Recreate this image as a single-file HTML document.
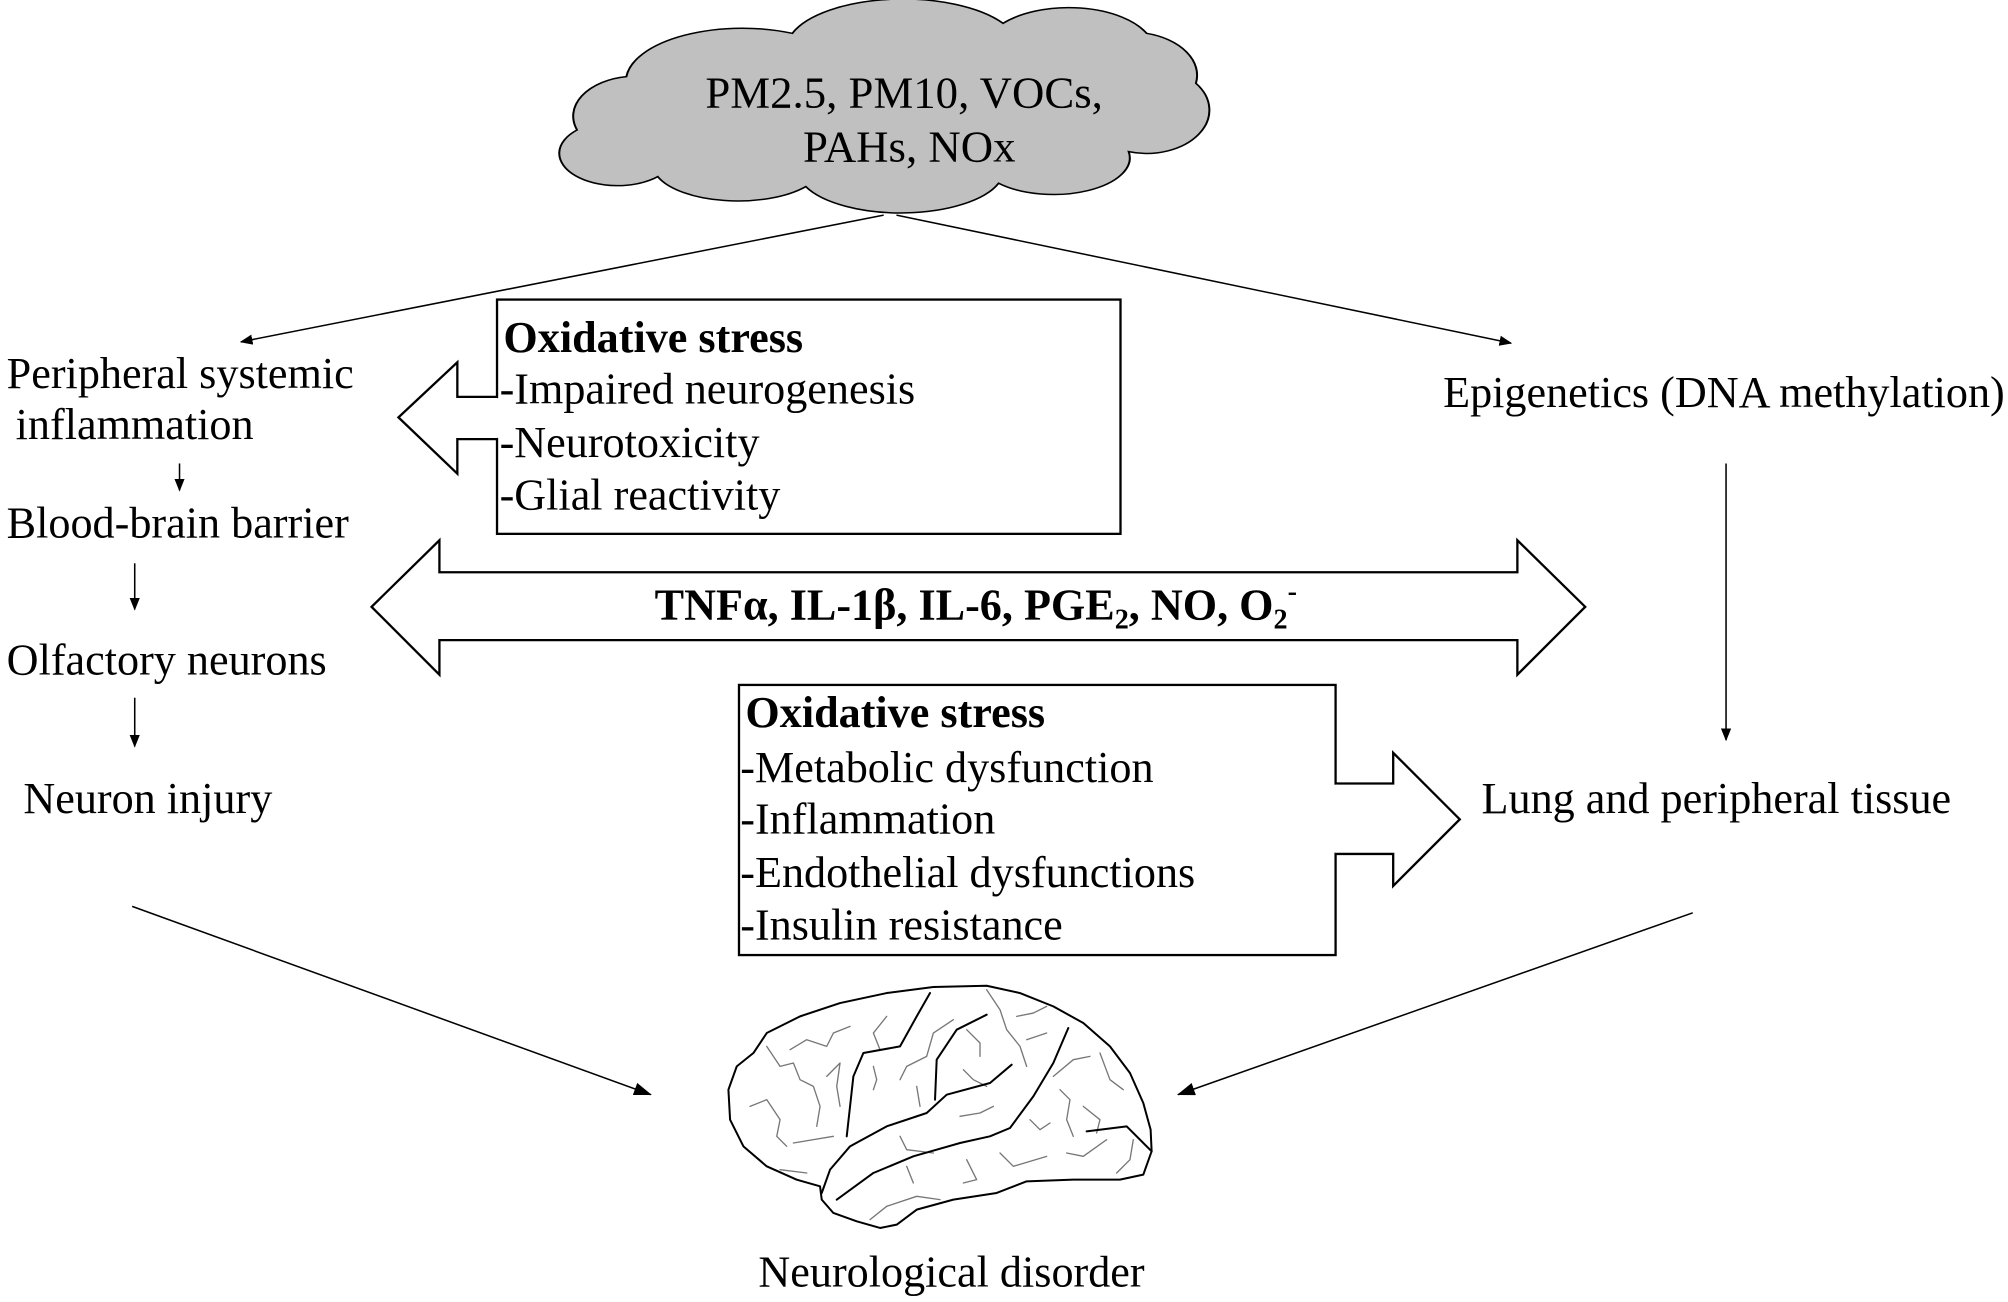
<!DOCTYPE html>
<html><head><meta charset="utf-8"><style>
html,body{margin:0;padding:0;background:#fff;}
svg{display:block;}
text{font-family:"Liberation Serif",serif;fill:#000;}
</style></head><body>
<svg width="2008" height="1302" viewBox="0 0 1568 1017" xmlns="http://www.w3.org/2000/svg">
<defs>
<marker id="ah" markerWidth="10" markerHeight="8" refX="9" refY="4" orient="auto" markerUnits="userSpaceOnUse"><path d="M0,0 L10,4 L0,8 z" fill="#000"/></marker>
<marker id="ah2" markerWidth="14" markerHeight="10" refX="13" refY="5" orient="auto" markerUnits="userSpaceOnUse"><path d="M0,0 L14,5 L0,10 z" fill="#000"/></marker>
</defs>
<!-- cloud -->
<g transform="scale(0.78088) translate(550,0) scale(0.4486,0.3333)">
<path d="M60,390 A140,120 0 0 1 170,230 A260,160 0 0 1 540,100 A260,150 0 0 1 1010,70 A190,130 0 0 1 1330,100 A150,130 0 0 1 1440,250 A140,130 0 0 1 1290,455 A170,110 0 0 1 1000,550 A230,130 0 0 1 570,560 A190,110 0 0 1 240,530 A120,90 0 0 1 60,390 Z" fill="#c0c0c0" stroke="#000" stroke-width="4.5"/>
</g>
<text x="706" y="84" font-size="35" text-anchor="middle">PM2.5, PM10, VOCs,</text>
<text x="710" y="126" font-size="35" text-anchor="middle">PAHs, NOx</text>
<line x1="690" y1="168" x2="188" y2="267" stroke="#000" stroke-width="1.2" marker-end="url(#ah)"/>
<line x1="700" y1="168" x2="1180" y2="268" stroke="#000" stroke-width="1.2" marker-end="url(#ah)"/>
<g font-size="34.5">
<text x="5" y="303">Peripheral systemic</text>
<text x="12" y="343">inflammation</text>
<text x="5" y="420">Blood-brain barrier</text>
<text x="5" y="527">Olfactory neurons</text>
<text x="18" y="635">Neuron injury</text>
<text x="1127" y="318">Epigenetics (DNA methylation)</text>
<text x="1157" y="635">Lung and peripheral tissue</text>
<text x="743" y="1005" text-anchor="middle">Neurological disorder</text>
</g>
<line x1="140" y1="362" x2="140" y2="383" stroke="#000" stroke-width="1.2" marker-end="url(#ah)"/>
<line x1="105" y1="440" x2="105" y2="476" stroke="#000" stroke-width="1.2" marker-end="url(#ah)"/>
<line x1="105" y1="545" x2="105" y2="583" stroke="#000" stroke-width="1.2" marker-end="url(#ah)"/>
<line x1="1348" y1="362" x2="1348" y2="578" stroke="#000" stroke-width="1.2" marker-end="url(#ah)"/>
<rect x="388" y="234" width="487" height="183" fill="#fff" stroke="#000" stroke-width="1.8"/>
<path d="M388,310 L357,310 L357,283 L311,326 L357,370 L357,343 L388,343" fill="#fff" stroke="#000" stroke-width="1.8"/>
<line x1="388" y1="311" x2="388" y2="342" stroke="#fff" stroke-width="3"/>
<g font-size="34.5">
<text x="393" y="275" font-weight="bold">Oxidative stress</text>
<text x="390" y="315">-Impaired neurogenesis</text>
<text x="390" y="357">-Neurotoxicity</text>
<text x="390" y="398">-Glial reactivity</text>
</g>
<path d="M290,474 L343,422 L343,447 L1185,447 L1185,422 L1238,474 L1185,527 L1185,500 L343,500 L343,527 Z" fill="#fff" stroke="#000" stroke-width="1.8"/>
<text x="762" y="484" font-size="34.5" font-weight="bold" text-anchor="middle">TNFα, IL-1β, IL-6, PGE<tspan font-size="22" dy="7">2</tspan><tspan dy="-7">, NO, O</tspan><tspan font-size="22" dy="7">2</tspan><tspan font-size="22" dy="-22">-</tspan></text>
<rect x="577" y="535" width="466" height="211" fill="#fff" stroke="#000" stroke-width="1.8"/>
<path d="M1043,612 L1088,612 L1088,588 L1140,640 L1088,692 L1088,667 L1043,667" fill="#fff" stroke="#000" stroke-width="1.8"/>
<line x1="1043" y1="613" x2="1043" y2="666" stroke="#fff" stroke-width="3"/>
<g font-size="34.5">
<text x="582" y="568" font-weight="bold">Oxidative stress</text>
<text x="578" y="611">-Metabolic dysfunction</text>
<text x="578" y="651">-Inflammation</text>
<text x="578" y="693">-Endothelial dysfunctions</text>
<text x="578" y="734">-Insulin resistance</text>
</g>
<line x1="103" y1="708" x2="508" y2="855" stroke="#000" stroke-width="1.2" marker-end="url(#ah2)"/>
<line x1="1322" y1="713" x2="920" y2="855" stroke="#000" stroke-width="1.2" marker-end="url(#ah2)"/>
<g transform="scale(0.78088) translate(700,980) scale(0.33333)" fill="none" stroke-linecap="round" stroke-linejoin="round">
<g stroke="#777" stroke-width="4">
<path d="M150,380 L200,360 L240,420 L230,470 L260,500"/>
<path d="M200,200 L240,260 L280,250 L300,300 L340,320 L360,380 L350,440"/>
<path d="M270,210 L320,180 L380,200 L400,160 L450,140"/>
<path d="M380,290 L420,250 L410,320 L420,380"/>
<path d="M280,490 L400,470"/>
<path d="M240,570 L320,580"/>
<path d="M520,260 L530,300 L520,330"/>
<path d="M560,110 L520,160 L540,210"/>
<path d="M600,300 L620,260 L680,230 L700,160 L760,120"/>
<path d="M650,320 L660,380"/>
<path d="M790,270 L820,300 L860,320"/>
<path d="M800,150 L840,190 L840,230"/>
<path d="M780,410 L840,400 L880,380"/>
<path d="M600,470 L620,510 L700,520"/>
<path d="M860,30 L900,90 L920,150 L960,200 L980,260"/>
<path d="M950,110 L1000,100 L1040,80"/>
<path d="M980,180 L1040,160"/>
<path d="M1060,290 L1120,240 L1170,230"/>
<path d="M1080,330 L1110,360 L1100,420 L1120,470"/>
<path d="M990,420 L1020,450 L1050,430"/>
<path d="M1100,520 L1150,530 L1220,480"/>
<path d="M1200,220 L1230,300 L1270,330"/>
<path d="M1150,380 L1200,420 L1190,460"/>
<path d="M900,520 L940,560 L1040,530"/>
<path d="M620,560 L640,610"/>
<path d="M800,540 L830,600 L790,610"/>
<path d="M510,720 L560,680 L650,650 L720,660"/>
<path d="M1250,580 L1290,540 L1300,480"/>
</g>
<g stroke="#000" stroke-width="6">
<path d="M360,620 L290,600 L200,560 L130,500 L90,420 L85,330 L110,260 L160,220 L200,160 L300,110 L420,70 L560,40 L700,22 L860,18 L960,40 L1060,80 L1150,130 L1230,200 L1290,280 L1330,370 L1352,450 L1355,515 L1330,585 L1260,600 L1120,600 L980,605 L890,640 L760,660 L650,690 L590,735 L540,745 L470,725 L400,700 L365,660 Z"/>
<path d="M365,640 L390,570 L450,500 L560,440 L680,400 L740,345 L870,310 L935,255"/>
<path d="M690,40 L650,110 L600,200 L490,220 L460,290 L440,470"/>
<path d="M860,105 L770,150 L710,240 L705,360"/>
<path d="M1105,145 L1060,250 L1000,350 L930,445 L870,470 L780,490 L640,530 L520,580 L410,660"/>
<path d="M1160,455 L1280,440 L1355,515"/>
</g>
</g>
</svg>
</body></html>
